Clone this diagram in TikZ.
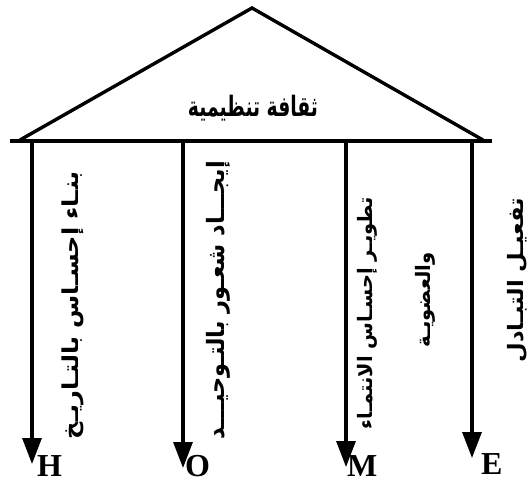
\documentclass[tikz,border=0pt]{standalone}
\usepackage{fontspec}
\usepackage{graphicx}
\setmainfont{Liberation Serif}
\newfontfamily\arabicfont[Script=Arabic]{DejaVu Sans}
\TeXXeTstate=1
\usetikzlibrary{arrows.meta}
\newcommand\arfit[3]{\resizebox*{#1}{#2}{\arabicfont\bfseries #3}}
\begin{document}
\begin{tikzpicture}[x=1pt,y=-1pt,
  roof/.style={line width=3.4pt, line join=miter},
  pillar/.style={line width=3.2pt, -{Triangle[length=26pt,width=19pt]}},
  letter/.style={font=\bfseries\fontsize{32}{32}\selectfont, inner sep=0pt, anchor=base west},
  vlab/.style={rotate=90, inner sep=0pt}]
\useasboundingbox (0,0) rectangle (532,489);
% roof
\coordinate (L) at (10,141);
\coordinate (R) at (492,141);
\coordinate (LL) at (20,140);
\coordinate (A) at (252,8);
\coordinate (RR) at (483,140);
\draw[roof] (LL) -- (A) -- (RR);
\draw[roof] (L) -- (R);
\node (title) at (253,108) {\arfit{130pt}{26pt}{\beginR ثقافة تنظيمية\endR}};
% letters
\node[letter] (H) at (37,476) {H};
\node[letter] (O) at (185,476) {O};
\node[letter] (M) at (347,476) {M};
\node[letter] (E) at (481,474) {E};
% pillars
\coordinate (t1) at (32,141);
\coordinate (t2) at (183,141);
\coordinate (t3) at (346,141);
\coordinate (t4) at (472,141);
\coordinate (e1) at (32,464);
\coordinate (e2) at (183,468);
\coordinate (e3) at (346,467);
\coordinate (e4) at (472,458);
\draw[pillar] (t1) -- (e1);
\draw[pillar] (t2) -- (e2);
\draw[pillar] (t3) -- (e3);
\draw[pillar] (t4) -- (e4);
% vertical labels
\node[vlab] (l1) at (73,305) {\arfit{268pt}{22pt}{\beginR بنـاء إحسـاس بالتـاريـخ\endR}};
\node[vlab] (l2) at (218,300) {\arfit{278pt}{24pt}{\beginR إيجـــاد شعـور بالتـوحيـــد\endR}};
\node[vlab] (l3a) at (367,313) {\arfit{232pt}{20pt}{\beginR تطويـر إحسـاس الانتمـاء\endR}};
\node[vlab] (l3b) at (425,300) {\arfit{95pt}{20pt}{\beginR والعضويـة\endR}};
\node[vlab] (l4) at (517,280) {\arfit{165pt}{20pt}{\beginR تفعيـل التبـادل\endR}};
\end{tikzpicture}
\end{document}
